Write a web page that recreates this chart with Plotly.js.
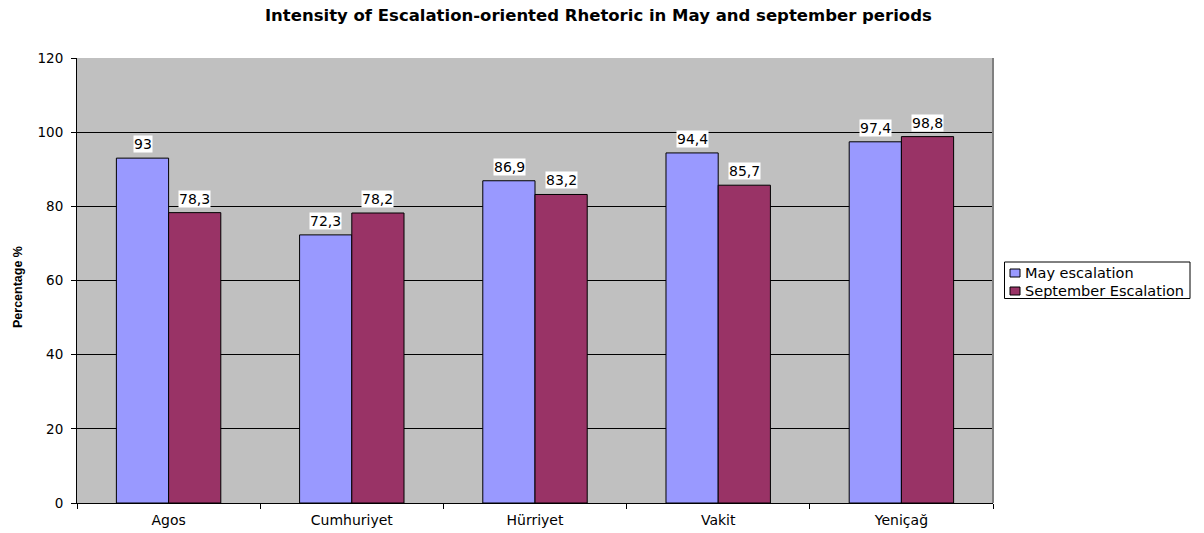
<!DOCTYPE html>
<html>
<head>
<meta charset="utf-8">
<script src="https://cdn.plot.ly/plotly-3.0.1.min.js"></script>
<style>html,body{margin:0;padding:0;background:#fff;}#chart{width:1204px;height:533px;}</style>
</head>
<body>
<div id="chart"></div>
<script>
const categories = ["Agos", "Cumhuriyet", "Hürriyet", "Vakit", "Yeniçağ"];
const mayValues = [93, 72.3, 86.9, 94.4, 97.4];
const sepValues = [78.3, 78.2, 83.2, 85.7, 98.8];
const mayLabels = ["93", "72,3", "86,9", "94,4", "97,4"];
const sepLabels = ["78,3", "78,2", "83,2", "85,7", "98,8"];
const seriesNames = ["May escalation", "September Escalation"];
const seriesColors = ["#9999ff", "#993366"];
const yTicks = [0, 20, 40, 60, 80, 100, 120];
const yTitle = "Percentage %";

const font = "DejaVu Sans, Verdana, sans-serif";
const font2 = "Liberation Sans, Arial, sans-serif";

const traces = [
  {type: "bar", name: seriesNames[0], x: categories, y: mayValues,
   marker: {color: seriesColors[0], line: {color: "#000", width: 1}}, hoverinfo: "none"},
  {type: "bar", name: seriesNames[1], x: categories, y: sepValues,
   marker: {color: seriesColors[1], line: {color: "#000", width: 1}}, hoverinfo: "none"}
];

const annotations = [];
categories.forEach((c, i) => {
  annotations.push({x: c, y: mayValues[i], text: mayLabels[i], showarrow: false,
    xshift: -26, yshift: 5, yanchor: "bottom", bgcolor: "#fff",
    font: {family: font, size: 14, color: "#000"}, borderpad: 0});
  annotations.push({x: c, y: sepValues[i], text: sepLabels[i], showarrow: false,
    xshift: 26, yshift: 5, yanchor: "bottom", bgcolor: "#fff",
    font: {family: font, size: 14, color: "#000"}, borderpad: 0});
});

// custom legend (paper coordinates relative to plot area: x 77..993, y 58..503)
const px = v => (v - 77) / 916;
const py = v => (503 - v) / 445;
const shapes = [
  {type: "line", xref: "paper", yref: "paper", x0: 1, x1: 1, y0: 0, y1: 1,
    line: {color: "#808080", width: 2}},
  {type: "rect", xref: "paper", yref: "paper", x0: px(1004.5), x1: px(1190), y0: py(262), y1: py(298.5),
    fillcolor: "#fff", line: {color: "#000", width: 1}}
];
seriesNames.forEach((n, i) => {
  const cy = 273 + i * 18;
  shapes.push({type: "rect", xref: "paper", yref: "paper", x0: px(1010), x1: px(1020),
    y0: py(cy + 4), y1: py(cy - 4), fillcolor: seriesColors[i], line: {color: "#000", width: 1}});
  annotations.push({xref: "paper", yref: "paper", x: px(1023), y: py(cy), xanchor: "left", yanchor: "middle",
    text: n, showarrow: false, font: {family: font, size: 14.5, color: "#000"}});
});
annotations.push({xref: "paper", yref: "paper", x: px(18), y: py(287), xanchor: "center", yanchor: "middle",
  textangle: -90, text: "<b>" + yTitle + "</b>", showarrow: false,
  font: {family: font2, size: 12.5, color: "#000"}});

const layout = {
  width: 1204, height: 533,
  margin: {l: 77, r: 211, t: 58, b: 30},
  paper_bgcolor: "#fff", plot_bgcolor: "#c0c0c0",
  font: {family: font, size: 13, color: "#000"},
  title: {text: "<b>Intensity of Escalation-oriented Rhetoric in May and september periods</b>",
    font: {family: font, size: 16.5, color: "#000"}, x: 0.497, xanchor: "center", y: 0.972, yanchor: "middle"},
  barmode: "group", bargap: 0.43, bargroupgap: 0,
  xaxis: {type: "category", showline: true, linecolor: "#000", linewidth: 1,
    ticks: "outside", tickson: "boundaries", ticklen: 5, tickcolor: "#000",
    tickfont: {family: font, size: 14}, showgrid: false, ticklabelstandoff: 4},
  yaxis: {range: [0, 120], tickvals: yTicks, showline: true, linecolor: "#000", linewidth: 1,
    ticks: "outside", ticklen: 5, tickcolor: "#000", gridcolor: "#000", gridwidth: 1,
    tickfont: {family: font, size: 13.5}, zeroline: false, ticklabelstandoff: 5},
  shapes: shapes,
  annotations: annotations,
  showlegend: false
};

Plotly.newPlot("chart", traces, layout, {displayModeBar: false, staticPlot: true});
</script>
</body>
</html>
